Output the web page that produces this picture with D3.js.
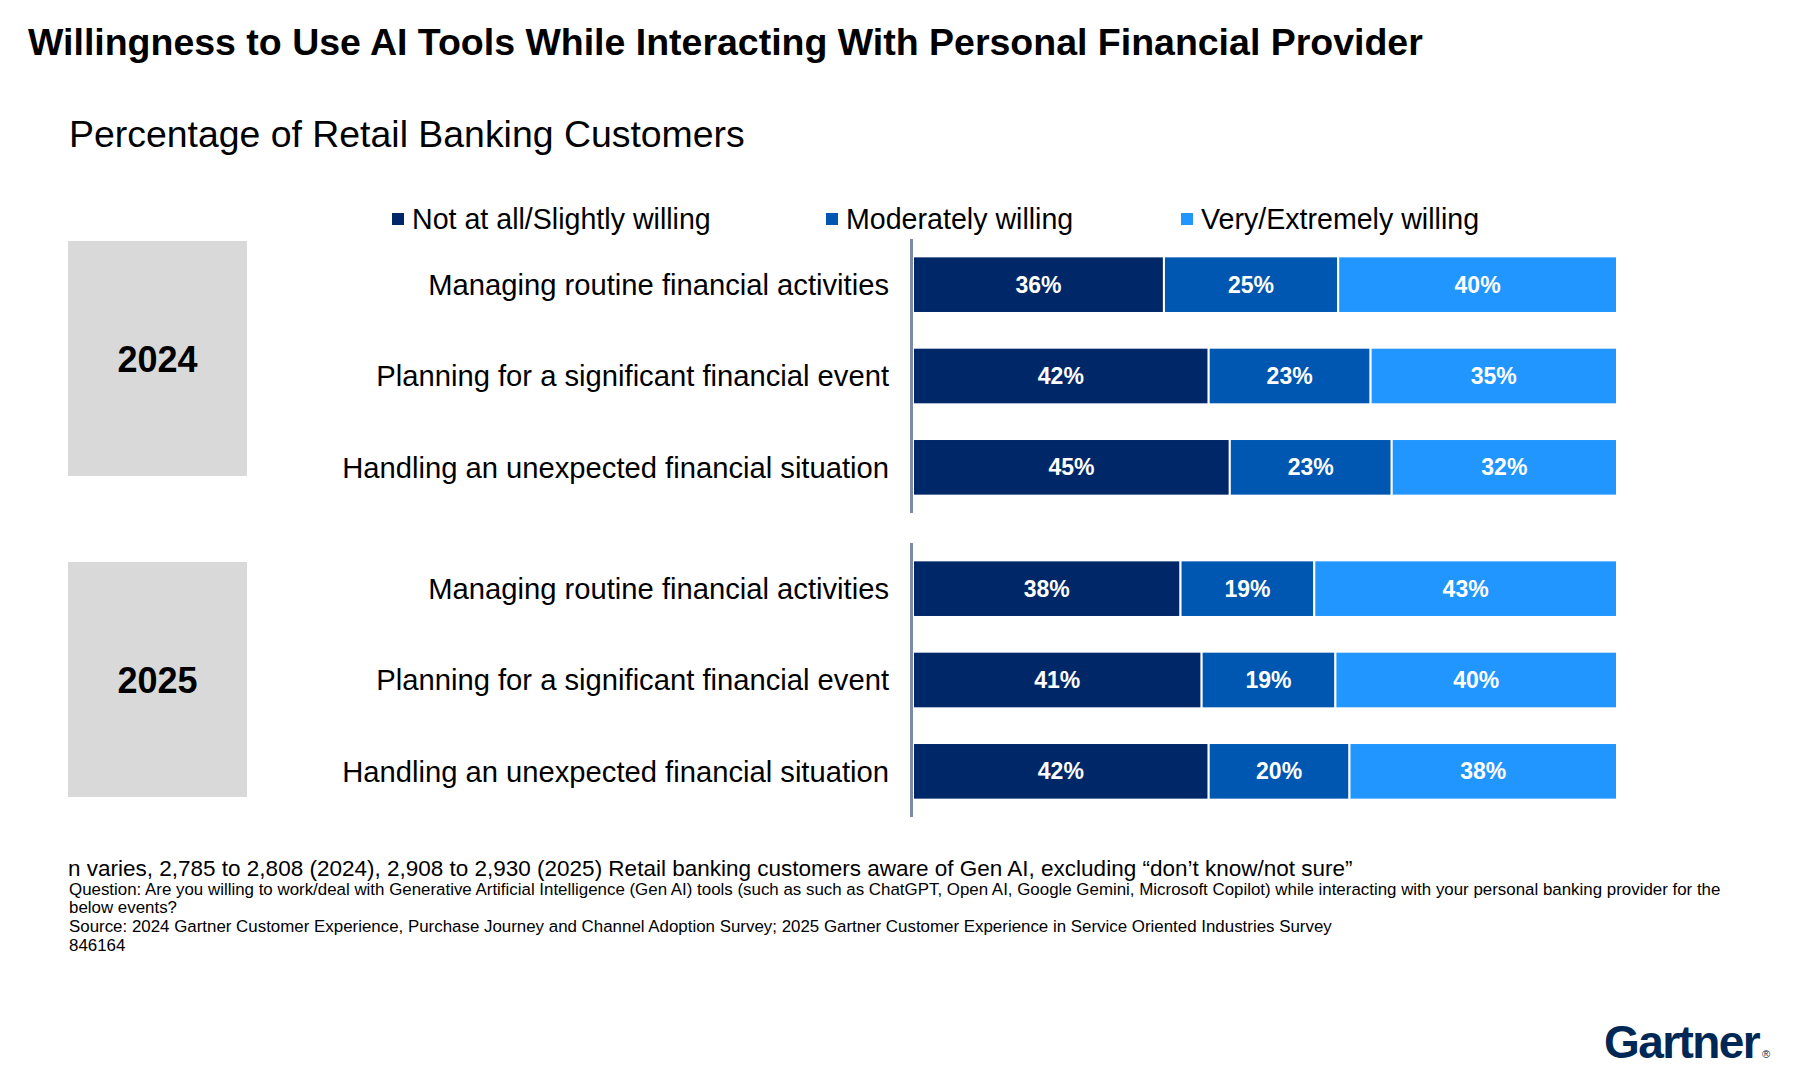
<!DOCTYPE html>
<html>
<head>
<meta charset="utf-8">
<script src="https://cdn.jsdelivr.net/npm/d3@7"></script>
<style>
  html, body { margin: 0; padding: 0; background: #fff; }
  svg { display: block; font-family: Arial, "Liberation Sans", sans-serif; }
</style>
</head>
<body>
<svg id="chart" width="1800" height="1079"></svg>
<script>
// ---- data ----
const years = ["2024", "2025"];
const activities = [
  "Managing routine financial activities",
  "Planning for a significant financial event",
  "Handling an unexpected financial situation"
];
const levels = ["Not at all/Slightly willing", "Moderately willing", "Very/Extremely willing"];

const notWilling2024 = [36, 42, 45];
const moderately2024 = [25, 23, 23];
const veryWilling2024 = [40, 35, 32];

const notWilling2025 = [38, 41, 42];
const moderately2025 = [19, 19, 20];
const veryWilling2025 = [43, 40, 38];

const colors = ["#002868", "#0057b1", "#2196ff"];

const footNotes = [
  "Question: Are you willing to work/deal with Generative Artificial Intelligence (Gen AI) tools (such as such as ChatGPT, Open AI, Google Gemini, Microsoft Copilot) while interacting with your personal banking provider for the",
  "below events?",
  "Source: 2024 Gartner Customer Experience, Purchase Journey and Channel Adoption Survey; 2025 Gartner Customer Experience in Service Oriented Industries Survey",
  "846164"
];

// build one table per year
function rows(a, b, c) {
  return activities.map((act, i) => ({
    activity: act, [levels[0]]: a[i], [levels[1]]: b[i], [levels[2]]: c[i]
  }));
}
const tables = [
  rows(notWilling2024, moderately2024, veryWilling2024),
  rows(notWilling2025, moderately2025, veryWilling2025)
];

const svg = d3.select("#chart");

// helper: scale font size so text fits a given width
function fitWidth(sel, w) {
  const fs = parseFloat(sel.attr("font-size"));
  const len = sel.node().getComputedTextLength();
  sel.attr("font-size", (fs * w / len).toFixed(2));
}

// titles
svg.append("text")
  .attr("x", 28).attr("y", 55)
  .attr("font-size", 34).attr("font-weight", "bold").attr("fill", "#000")
  .text("Willingness to Use AI Tools While Interacting With Personal Financial Provider")
  .call(fitWidth, 1395);

svg.append("text")
  .attr("x", 69).attr("y", 147)
  .attr("font-size", 36).attr("fill", "#000")
  .text("Percentage of Retail Banking Customers")
  .call(fitWidth, 676);

// legend
const legendX = [392, 826, 1181];
const legend = svg.append("g");
levels.forEach((lv, i) => {
  legend.append("rect")
    .attr("x", legendX[i]).attr("y", 213)
    .attr("width", 12).attr("height", 12)
    .attr("fill", colors[i]);
  legend.append("text")
    .attr("x", legendX[i] + 20).attr("y", 229)
    .attr("font-size", 28.6).attr("fill", "#000")
    .text(lv);
});

// scales
const x = d3.scaleLinear().domain([0, 1]).range([913, 1617]);
const groupRanges = [[239, 513], [543, 817]];
const boxTop = [241, 562];
const boxH = 235;

const stack = d3.stack().keys(levels).offset(d3.stackOffsetExpand);

years.forEach((yr, gi) => {
  const y = d3.scaleBand()
    .domain(activities)
    .range(groupRanges[gi])
    .paddingInner(0.38)
    .paddingOuter(0.19);

  const g = svg.append("g");

  // year box
  g.append("rect")
    .attr("x", 68).attr("y", boxTop[gi])
    .attr("width", 179).attr("height", boxH)
    .attr("fill", "#d9d9d9");
  g.append("text")
    .attr("x", 157.5).attr("y", boxTop[gi] + boxH / 2 + 13)
    .attr("text-anchor", "middle")
    .attr("font-size", 36).attr("font-weight", "bold").attr("fill", "#000")
    .text(yr);

  // category labels
  g.selectAll(".cat")
    .data(activities)
    .enter().append("text")
    .attr("x", 889)
    .attr("y", d => y(d) + y.bandwidth() / 2)
    .attr("dy", "0.35em")
    .attr("text-anchor", "end")
    .attr("font-size", 29.2).attr("fill", "#000")
    .text(d => d);

  // stacked bars
  const series = stack(tables[gi]);
  series.forEach((s, si) => {
    const layer = g.append("g").attr("fill", colors[si]);
    layer.selectAll("rect")
      .data(s)
      .enter().append("rect")
      .attr("x", d => x(d[0]))
      .attr("y", d => y(d.data.activity))
      .attr("width", d => x(d[1]) - x(d[0]))
      .attr("height", y.bandwidth())
      .attr("stroke", "#fff").attr("stroke-width", 2);

    layer.selectAll("text")
      .data(s)
      .enter().append("text")
      .attr("x", d => (x(d[0]) + x(d[1])) / 2)
      .attr("y", d => y(d.data.activity) + y.bandwidth() / 2)
      .attr("dy", "0.35em")
      .attr("text-anchor", "middle")
      .attr("font-size", 23).attr("font-weight", "bold").attr("fill", "#fff")
      .text(d => d.data[s.key] + "%");
  });

  // vertical axis line
  g.append("line")
    .attr("x1", 911.5).attr("x2", 911.5)
    .attr("y1", groupRanges[gi][0]).attr("y2", groupRanges[gi][1])
    .attr("stroke", "#7f8aa6").attr("stroke-width", 3);
});

// footnotes
svg.append("text")
  .attr("x", 68).attr("y", 876)
  .attr("font-size", 24).attr("fill", "#000")
  .text("n varies, 2,785 to 2,808 (2024), 2,908 to 2,930 (2025) Retail banking customers aware of Gen AI, excluding \u201cdon\u2019t know/not sure\u201d")
  .call(fitWidth, 1285);

const noteY = [895, 913, 932, 951];
footNotes.forEach((t, i) => {
  svg.append("text")
    .attr("x", 69).attr("y", noteY[i])
    .attr("font-size", 16.9).attr("fill", "#000")
    .text(t);
});

// logo
const logo = svg.append("text")
  .attr("x", 1604).attr("y", 1058)
  .attr("font-size", 46).attr("font-weight", "bold").attr("fill", "#002856")
  .attr("letter-spacing", -1.6)
  .text("Gartner");
const logoEnd = 1604 + logo.node().getComputedTextLength();
svg.append("text")
  .attr("x", logoEnd + 3).attr("y", 1058)
  .attr("font-size", 11).attr("fill", "#002856")
  .text("\u00ae");
</script>
</body>
</html>
